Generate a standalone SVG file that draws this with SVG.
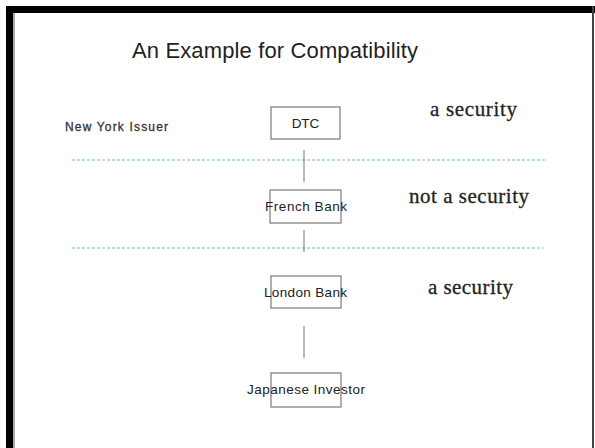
<svg xmlns="http://www.w3.org/2000/svg" width="595" height="448" viewBox="0 0 595 448">
<style>
.box{fill:none;stroke:#7a7a7a;stroke-width:1.2}
.lbl{font-family:"Liberation Sans",Arial,sans-serif;font-size:13.5px;fill:#222;text-anchor:middle}
.ser{font-family:"Liberation Serif","Times New Roman",serif;font-size:21px;fill:#222;stroke:#222;stroke-width:0.3}
.conn line{stroke:#8a8a8a;stroke-width:1.2}
.dash{stroke:#5cc4c8;stroke-width:1.2;stroke-dasharray:3 2}
</style>
<rect width="595" height="448" fill="#fff"/>
<g id="frame">
<rect x="6" y="6" width="7" height="442" fill="#000"/>
<rect x="6" y="6" width="589" height="7" fill="#000"/>
<rect x="13" y="13" width="2" height="435" fill="#aaa"/>
<rect x="592" y="6" width="2" height="442" fill="#444"/>
</g>
<text x="275" y="58" font-family="Liberation Sans,Arial,sans-serif" font-size="22" fill="#222" text-anchor="middle" textLength="286">An Example for Compatibility</text>
<text x="65" y="131" font-family="Liberation Sans,Arial,sans-serif" font-size="12" fill="#333" stroke="#333" stroke-width="0.3" textLength="103">New York Issuer</text>
<line class="dash" x1="72" y1="160" x2="545" y2="160"/>
<line class="dash" x1="72" y1="248" x2="543" y2="248"/>
<g class="conn" id="connectors">
<line x1="304" y1="150" x2="304" y2="182"/>
<line x1="304" y1="230" x2="304" y2="252"/>
<line x1="304" y1="326" x2="304" y2="358"/>
</g>
<g id="dtc">
<rect class="box" x="271" y="107" width="69" height="32"/>
<text class="lbl" x="305.5" y="128" font-size="13">DTC</text>
</g>
<g id="french">
<rect class="box" x="270" y="190" width="71" height="33"/>
<text class="lbl" x="306" y="211" textLength="82">French Bank</text>
</g>
<g id="london">
<rect class="box" x="271" y="276" width="70" height="32"/>
<text class="lbl" x="305.5" y="297" textLength="83">London Bank</text>
</g>
<g id="japanese">
<rect class="box" x="271" y="373" width="70" height="34"/>
<text class="lbl" x="306" y="394" textLength="118">Japanese Investor</text>
</g>
<text class="ser" x="430" y="116" textLength="87">a security</text>
<text class="ser" x="409" y="203" textLength="120">not a security</text>
<text class="ser" x="428" y="294" textLength="85">a security</text>
</svg>
